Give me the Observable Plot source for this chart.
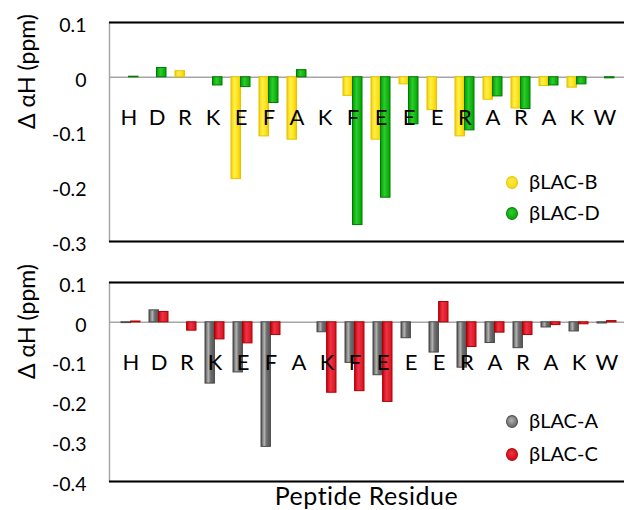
<!DOCTYPE html>
<html><head><meta charset="utf-8">
<script src="https://cdn.jsdelivr.net/npm/d3@7"></script>
<script src="https://cdn.jsdelivr.net/npm/@observablehq/plot@0.6"></script>
<style>
body{margin:0;background:#fff;}
#wrap{position:relative;width:624px;height:510px;overflow:hidden;font-family:Lato,"Open Sans",sans-serif;color:#000;}
#wrap svg{max-width:none !important;}
.panel{position:absolute;left:0;}
.leg{position:absolute;left:0;top:0;font-size:20px;line-height:1;white-space:nowrap;}
.dot{position:absolute;width:12px;height:13px;border-radius:50%;}
#xlabel{position:absolute;left:109px;width:515px;top:483px;text-align:center;font-size:25px;line-height:1;letter-spacing:0.5px;}
</style></head>
<body>
<div id="wrap">
  <div id="top" class="panel" style="top:0"></div>
  <div id="bot" class="panel" style="top:258px"></div>
  <div id="legTop"></div>
  <div id="legBot"></div>
  <div id="xlabel">Peptide Residue</div>
</div>
<script>
const residues = ["H","D","R","K","E","F","A","K","F","E","E","E","R","A","R","A","K","W"];
const lacB = [0, 0, 0.011, 0, -0.186, -0.108, -0.114, 0, -0.034, -0.114, -0.013, -0.060, -0.108, -0.041, -0.057, -0.016, -0.019, 0];
const lacD = [0.001, 0.017, 0, -0.015, -0.018, -0.047, 0.013, 0, -0.270, -0.220, -0.086, 0, -0.097, -0.035, -0.058, -0.015, -0.013, -0.002];
const lacA = [-0.002, 0.030, 0, -0.154, -0.126, -0.313, 0, -0.025, -0.102, -0.133, -0.040, -0.076, -0.114, -0.052, -0.065, -0.013, -0.023, -0.003];
const lacC = [0.002, 0.026, -0.021, -0.043, -0.053, -0.032, 0, -0.177, -0.173, -0.200, 0, 0.051, -0.062, -0.026, -0.032, -0.007, -0.005, 0.003];
const topTicks = [0.1, 0, -0.1, -0.2, -0.3];
const botTicks = [0.1, 0, -0.1, -0.2, -0.3, -0.4];
const yLabel = "Δ αH (ppm)";

const styles = {
  "βLAC-B": {id: "gB", stroke: "#e6c200", stops: [[0, "#f2cc00"], [0.35, "#fff04a"], [0.7, "#ffe21a"], [1, "#f0c800"]]},
  "βLAC-D": {id: "gD", stroke: "#007a00", stops: [[0, "#009a00"], [0.4, "#2ccc2c"], [1, "#00a400"]]},
  "βLAC-A": {id: "gA", stroke: "#4a4a4a", stops: [[0, "#4c4c4c"], [0.35, "#b4b4b4"], [0.6, "#6e6e6e"], [1, "#555555"]]},
  "βLAC-C": {id: "gC", stroke: "#b00000", stops: [[0, "#c40010"], [0.4, "#ee3444"], [1, "#d41020"]]}
};

function fmt(d) { return d === 0 ? "0" : d.toFixed(1); }

function addDefs(svg, tag) {
  const ns = "http://www.w3.org/2000/svg";
  const defs = document.createElementNS(ns, "defs");
  for (const s of Object.values(styles)) {
    const g = document.createElementNS(ns, "linearGradient");
    g.setAttribute("id", s.id + tag);
    g.setAttribute("x1", "0"); g.setAttribute("x2", "1");
    g.setAttribute("y1", "0"); g.setAttribute("y2", "0");
    for (const [o, c] of s.stops) {
      const st = document.createElementNS(ns, "stop");
      st.setAttribute("offset", o); st.setAttribute("stop-color", c);
      g.append(st);
    }
    defs.append(g);
  }
  svg.prepend(defs);
}

function panel(tag, names, values, ticks, opt) {
  const rows = residues.map((r, i) => ({i, r}));
  const series = names.map((n, k) => values[k].map((v, i) => ({i, v})).filter(d => d.v !== 0));
  const half = opt.half;
  const svg = Plot.plot({
    width: 640,
    height: opt.height,
    marginLeft: 109,
    marginRight: 0,
    marginTop: opt.mt,
    marginBottom: opt.mb,
    style: {fontFamily: "Lato, 'Open Sans', sans-serif", background: "white", maxWidth: "none"},
    x: {type: "band", domain: d3.range(residues.length), range: opt.xrange, paddingInner: 1/3, paddingOuter: 1/6, axis: null},
    y: {domain: [ticks[ticks.length - 1], ticks[0]]},
    marks: [
      Plot.frame({stroke: "#a6a6a6", strokeWidth: 1.5}),
      Plot.ruleY([0], {stroke: "#a6a6a6", strokeWidth: 1.5}),
      Plot.barY(series[0], {x: "i", y: "v", fill: `url(#${styles[names[0]].id}${tag})`, stroke: styles[names[0]].stroke, strokeWidth: 1, insetRight: half}),
      Plot.barY(series[1], {x: "i", y: "v", fill: `url(#${styles[names[1]].id}${tag})`, stroke: styles[names[1]].stroke, strokeWidth: 1, insetLeft: half}),
      Plot.ruleY([ticks[0], ticks[ticks.length - 1]], {stroke: "black", strokeWidth: 2}),
      Plot.text(rows, {x: "i", y: 0, text: "r", dy: 41, fontSize: 22, fill: "black"}),
      Plot.axisY({ticks, tickSize: 0, tickPadding: 23, tickFormat: fmt, fontSize: 19.5, dy: 3, label: null}),
      Plot.text([yLabel], {frameAnchor: "left", rotate: -90, dx: -82, dy: -3, fontSize: 23, fill: "black"})
    ]
  });
  addDefs(svg, tag);
  return svg;
}

document.getElementById("top").append(panel("t", ["βLAC-B", "βLAC-D"], [lacB, lacD], topTicks,
  {height: 258, mt: 22, mb: 17, xrange: [109, 624], half: 9.5}));
document.getElementById("bot").append(panel("b", ["βLAC-A", "βLAC-C"], [lacA, lacC], botTicks,
  {height: 252, mt: 24, mb: 29, xrange: [110, 627], half: 9.6}));

function legend(el, names, ys) {
  const root = document.getElementById(el);
  names.forEach((n, k) => {
    const s = styles[n];
    const dot = document.createElement("div");
    dot.className = "dot";
    dot.style.left = (512 - 6) + "px";
    dot.style.top = (ys[k] - 6.5) + "px";
    dot.style.background = `radial-gradient(circle at 45% 40%, ${s.stops[1][1]}, ${s.stops[0][1]})`;
    dot.style.border = `1px solid ${s.stroke}`;
    dot.style.boxSizing = "border-box";
    root.append(dot);
    const t = document.createElement("div");
    t.className = "leg";
    t.style.left = "529px";
    t.style.top = (ys[k] - 11) + "px";
    t.textContent = n;
    root.append(t);
  });
}
legend("legTop", ["βLAC-B", "βLAC-D"], [182, 213]);
legend("legBot", ["βLAC-A", "βLAC-C"], [421, 454]);
</script>
</body></html>
